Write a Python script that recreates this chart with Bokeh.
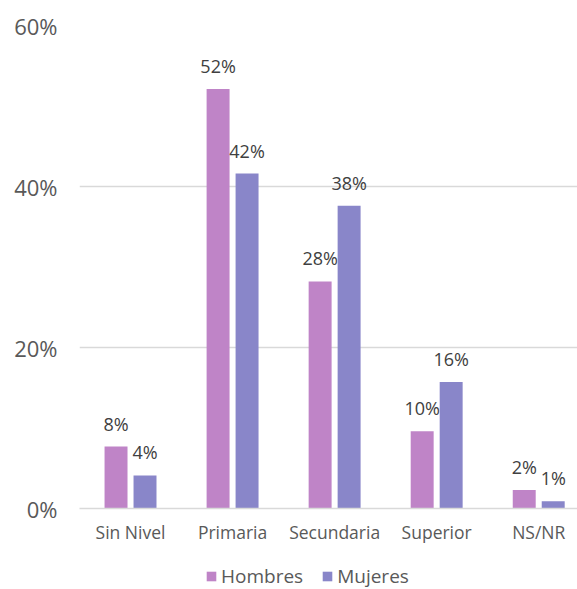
from bokeh.plotting import figure
from bokeh.layouts import column
from bokeh.models import FixedTicker, Range1d, ColumnDataSource, Legend, LegendItem
from bokeh.core.properties import value
from bokeh.transform import dodge
from bokeh.embed import file_html
from bokeh.resources import INLINE

categories = ["Sin Nivel", "Primaria", "Secundaria", "Superior", "NS/NR"]
hombres = [7.7, 52.1, 28.2, 9.6, 2.3]
mujeres = [4.1, 41.6, 37.6, 15.7, 0.9]
hombres_labels = ["8%", "52%", "28%", "10%", "2%"]
mujeres_labels = ["4%", "42%", "38%", "16%", "1%"]
y_ticks = [0, 20, 40, 60]
y_tick_labels = ["0%", "20%", "40%", "60%"]
series_names = ["Hombres", "Mujeres"]

FONT = "Open Sans"
C_H = "#BF84C7"
C_M = "#8986C9"
GRID = "#D9D9D9"
TXT = "#595959"

xs = list(range(len(categories)))
src = ColumnDataSource(dict(x=xs, h=hombres, m=mujeres, hl=hombres_labels, ml=mujeres_labels))

p = figure(width=577, height=548, output_backend="svg", toolbar_location=None,
           x_range=Range1d(-0.5, 4.38), y_range=Range1d(0, 60),
           min_border_left=79, min_border_right=0, min_border_top=25, min_border_bottom=40)
p.outline_line_color = None
p.background_fill_color = "white"
p.border_fill_color = "white"

off = 0.142
bw = 0.225
rh = p.vbar(x=dodge("x", -off, range=p.x_range), top="h", width=bw, source=src,
            fill_color=C_H, line_color=None)
rm = p.vbar(x=dodge("x", off, range=p.x_range), top="m", width=bw, source=src,
            fill_color=C_M, line_color=None)

p.text(x=dodge("x", -off, range=p.x_range), y="h", text="hl", source=src,
       text_align="center", text_baseline="alphabetic", y_offset=-23,
       text_font=value(FONT), text_font_size="18px", text_color="#404040")
p.text(x=dodge("x", off, range=p.x_range), y="m", text="ml", source=src,
       text_align="center", text_baseline="alphabetic", y_offset=-23,
       text_font=value(FONT), text_font_size="18px", text_color="#404040")

# axes
p.xaxis.ticker = FixedTicker(ticks=xs)
p.xaxis.major_label_overrides = {i: c for i, c in zip(xs, categories)}
p.xaxis.axis_line_color = GRID
p.xaxis.axis_line_width = 1.3
p.xaxis.major_tick_line_color = None
p.xaxis.minor_tick_line_color = None
p.xaxis.major_tick_out = 0
p.xaxis.major_tick_in = 0
p.xaxis.minor_tick_out = 0
p.xaxis.major_label_standoff = 11
p.xaxis.major_label_text_font = FONT
p.xaxis.major_label_text_font_size = "17.5px"
p.xaxis.major_label_text_color = TXT

p.yaxis.ticker = FixedTicker(ticks=y_ticks)
p.yaxis.major_label_overrides = {t: l for t, l in zip(y_ticks, y_tick_labels)}
p.yaxis.axis_line_color = None
p.yaxis.major_tick_line_color = None
p.yaxis.minor_tick_line_color = None
p.yaxis.major_tick_out = 0
p.yaxis.major_tick_in = 0
p.yaxis.minor_tick_out = 0
p.yaxis.major_label_standoff = 22
p.yaxis.major_label_text_font = FONT
p.yaxis.major_label_text_font_size = "22px"
p.yaxis.major_label_text_color = TXT

p.xgrid.grid_line_color = None
p.ygrid.grid_line_color = GRID
p.ygrid.grid_line_width = 1.3

# legend strip below the chart (dummy bars lie outside its ranges)
lf = figure(width=577, height=41, output_backend="svg", toolbar_location=None,
            x_range=Range1d(0, 1), y_range=Range1d(0, 1),
            x_axis_location=None, y_axis_location=None,
            min_border_left=0, min_border_right=0, min_border_top=0, min_border_bottom=0)
lf.outline_line_color = None
lf.xgrid.grid_line_color = None
lf.ygrid.grid_line_color = None
dh = lf.vbar(x=[5], top=[0.5], width=0.1, fill_color=C_H, line_color=None)
dm = lf.vbar(x=[5], top=[0.5], width=0.1, fill_color=C_M, line_color=None)

legend = Legend(items=[LegendItem(label=series_names[0], renderers=[dh]),
                       LegendItem(label=series_names[1], renderers=[dm])],
                orientation="horizontal", location=(126, 0),
                glyph_width=12, glyph_height=12, label_standoff=4, spacing=18,
                padding=0, margin=0, border_line_color=None,
                background_fill_alpha=0,
                label_text_font=FONT, label_text_font_size="19px",
                label_text_color=TXT)
lf.add_layout(legend, "center")

layout = column(p, lf, spacing=0)
open("out.html", "w").write(file_html(layout, INLINE))
